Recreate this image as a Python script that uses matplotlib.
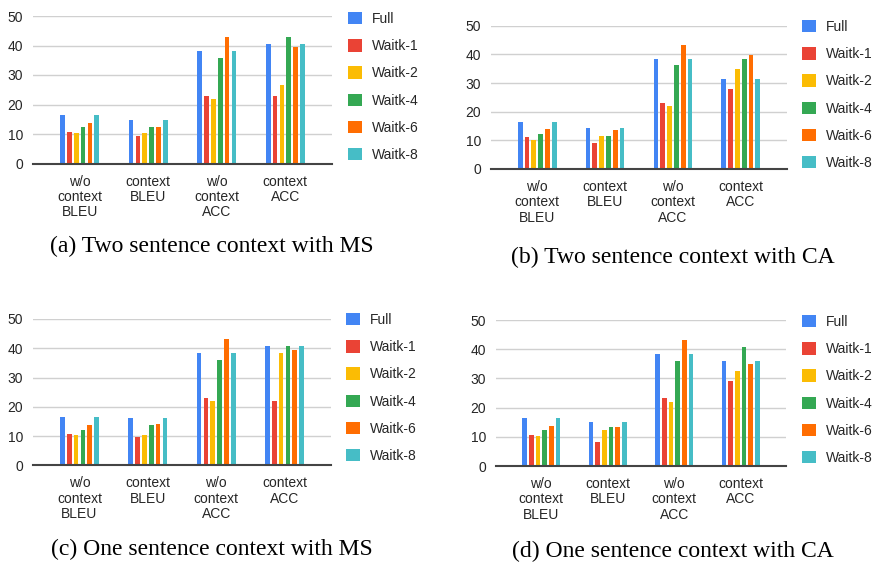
import numpy as np
import matplotlib
matplotlib.use("Agg")
import matplotlib.pyplot as plt
from matplotlib.patches import Patch

W, H = 878, 563

groups = ["w/o\ncontext\nBLEU", "context\nBLEU", "w/o\ncontext\nACC", "context\nACC"]
series = ["Full", "Waitk-1", "Waitk-2", "Waitk-4", "Waitk-6", "Waitk-8"]
colors = ["#4285F4", "#EA4335", "#FBBC04", "#34A853", "#FF6D01", "#46BDC6"]

# values per series, one entry per group
two_ms = {
    "Full":    [16.5, 14.6, 38.1, 40.5],
    "Waitk-1": [10.7, 9.3, 23.0, 23.0],
    "Waitk-2": [10.4, 10.4, 22.0, 26.5],
    "Waitk-4": [12.3, 12.3, 35.9, 42.8],
    "Waitk-6": [13.8, 12.3, 42.8, 39.4],
    "Waitk-8": [16.5, 14.6, 38.1, 40.5],
}
two_ca = {
    "Full":    [16.5, 14.4, 38.5, 31.3],
    "Waitk-1": [11.0, 9.0, 23.1, 27.9],
    "Waitk-2": [10.1, 11.4, 22.0, 35.0],
    "Waitk-4": [12.2, 11.4, 36.4, 38.5],
    "Waitk-6": [14.0, 13.5, 43.1, 39.8],
    "Waitk-8": [16.5, 14.4, 38.5, 31.3],
}
one_ms = {
    "Full":    [16.5, 16.2, 38.4, 40.7],
    "Waitk-1": [10.7, 9.7, 23.1, 22.0],
    "Waitk-2": [10.3, 10.3, 22.0, 38.4],
    "Waitk-4": [12.2, 13.8, 36.0, 40.7],
    "Waitk-6": [13.8, 14.2, 43.1, 39.5],
    "Waitk-8": [16.5, 16.2, 38.4, 40.7],
}
one_ca = {
    "Full":    [16.6, 15.0, 38.4, 36.0],
    "Waitk-1": [10.7, 8.3, 23.2, 29.0],
    "Waitk-2": [10.4, 12.2, 22.0, 32.5],
    "Waitk-4": [12.3, 13.5, 36.0, 40.6],
    "Waitk-6": [13.8, 13.5, 43.0, 34.9],
    "Waitk-8": [16.6, 15.0, 38.4, 36.0],
}
captions = ["(a) Two sentence context with MS", "(b) Two sentence context with CA",
            "(c) One sentence context with MS", "(d) One sentence context with CA"]

fig = plt.figure(figsize=(W / 100, H / 100), dpi=100)
plt.rcParams["font.family"] = ["Liberation Sans", "DejaVu Sans"]


def panel(data, left, right, y50, y0, leg_x, leg_y, cap_x, cap_y, caption):
    ax = fig.add_axes([left / W, 1 - y0 / H, (right - left) / W, (y0 - y50) / H])
    x = np.arange(len(groups))
    for j, name in enumerate(series):
        ax.bar(x + (j - 2.5) * 0.1, data[name], width=0.07,
               color=colors[j], zorder=3)
    ax.set_ylim(0, 50)
    ax.set_xlim(-0.68, 3.68)
    ax.set_yticks([0, 10, 20, 30, 40, 50])
    ax.set_xticks(x)
    ax.set_xticklabels(groups, linespacing=1.12)
    ax.tick_params(axis="both", length=0, labelsize=10, colors="#262626")
    ax.tick_params(axis="x", pad=8)
    ax.tick_params(axis="y", pad=7)
    ax.grid(axis="y", color="#d0d0d0", linewidth=1.0, zorder=0)
    for s in ["top", "right", "left"]:
        ax.spines[s].set_visible(False)
    ax.spines["bottom"].set_color("#444444")
    ax.spines["bottom"].set_linewidth(1.5)
    ax.spines["bottom"].set_zorder(4)
    handles = [Patch(facecolor=c, edgecolor="none") for c in colors]
    ax.legend(handles, series, loc="upper left",
              bbox_to_anchor=(leg_x / W, 1 - leg_y / H),
              bbox_transform=fig.transFigure, frameon=False, fontsize=10,
              handlelength=1.0, handleheight=1.0, handletextpad=0.75,
              labelspacing=0.95, borderaxespad=0, borderpad=0,
              labelcolor="#262626")
    fig.text(cap_x / W, 1 - cap_y / H, caption, ha="center", va="center",
             fontsize=17, family=["Liberation Serif", "DejaVu Serif"])
    return ax


panel(two_ms, 33, 332, 16, 163.5, 348, 12, 212, 246, captions[0])
panel(two_ca, 491, 787, 25.7, 169, 802, 20, 673, 257, captions[1])
panel(one_ms, 33, 331, 319, 465.3, 346, 313, 212, 549, captions[2])
panel(one_ca, 496, 786, 320, 466, 802, 315, 673, 551, captions[3])

fig.savefig("out.png", dpi=100)
